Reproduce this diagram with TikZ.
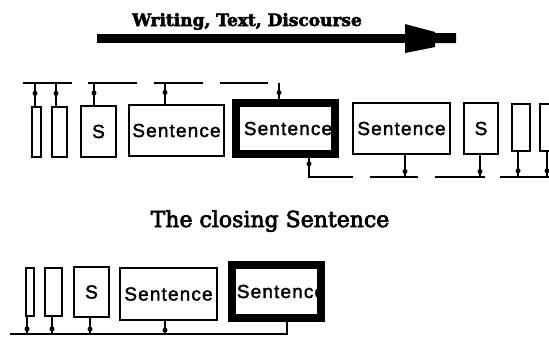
\documentclass[tikz,border=0pt]{standalone}
\usepackage{fontspec}
\usetikzlibrary{calc, positioning}
\newfontfamily\boxfont[LetterSpace=6, FakeBold=2]{Liberation Sans}
\newfontfamily\headfont[FakeBold=3]{DejaVu Serif}
\tikzset{
  % sentence box
  sbox/.style={
    draw
    , line width=2pt
    , inner sep=0pt
    , anchor=center
    , text centered
    , font=\boxfont\fontsize{19}{19}\selectfont
  },
}
\tikzset{
  % the closing sentence (heavy frame)
  cbox/.style={
    sbox
    , line width=8pt
  },
}
\tikzset{
  % connector and level line
  tap/.style={
    line width=2pt
  },
}
\tikzset{
  % knot on a connector
  blob/.style={
    circle
    , fill
    , inner sep=0pt
    , minimum size=5pt
  },
}

\begin{document}
\begin{tikzpicture}[x=1pt, y=-1pt]
  \useasboundingbox (0,0) rectangle (549,338);
  \clip (0,0) rectangle (549,338);

  % direction of the text
  \node[font=\headfont\bfseries\fontsize{17}{17}\selectfont, anchor=base]
    (flow label) at (247,26) {Writing, Text, Discourse};
  \coordinate (flow tail) at (97,38);
  \coordinate (flow head) at (405,38);
  \draw[line width=9pt] (flow tail) -- (flow head);
  \fill[shift={(flow head)}]
    (0,-14) -- (30,-6) -- (30,-5) -- (51,-5) -- (51,5)
    -- (30,5) -- (30,9) -- (0,15) -- cycle;

  % sentence chain in the middle of the text
  \node[sbox, minimum width=9pt, minimum height=50pt] (w1) at (36.5,132) {};
  \node[sbox, minimum width=15pt, minimum height=50pt] (w2) at (59.5,132) {};
  \node[sbox, minimum width=35pt, minimum height=51pt] (s1) at (98.5,131.5) {S};
  \node[sbox, minimum width=95pt, minimum height=51pt] (sent1) at (176.5,130.5) {Sentence};
  \node[cbox, minimum width=99pt, minimum height=51pt] (c1) at (285.5,128.5) {};
  \node[font=\boxfont\fontsize{19}{19}\selectfont] (c1 text) at (288,128.5) {Sentence};
  \node[sbox, minimum width=97pt, minimum height=51pt] (sent2) at (401.5,128.5) {Sentence};
  \node[sbox, minimum width=34pt, minimum height=51pt] (s2) at (481,128.5) {S};
  \node[sbox, minimum width=18pt, minimum height=47pt] (w3) at (521,127.5) {};
  \node[sbox, minimum width=19pt, minimum height=47pt] (w4) at (549.5,127.5) {};

  % level lines above and below
  \foreach \a/\b in {23/72, 88/137, 154/203, 220/268}
    \draw[tap] (\a,83) -- (\b,83);
  \foreach \a/\b in {370/418, 435/485, 500/549}
    \draw[tap] (\a,177) -- (\b,177);

  % taps going up
  \coordinate (w1 up) at (35,83);
  \coordinate (w2 up) at (56,83);
  \coordinate (s1 up) at (94,83);
  \coordinate (sent1 up) at (165,83);
  \coordinate (c1 in) at (279,83);
  \foreach \n in {w1, w2, s1, sent1}
    \draw[tap] (\n\space up |- \n.north) -- node[blob, pos=.55] {} (\n\space up);
  \draw[tap] (c1 in) -- node[blob, pos=.6] {} (c1 in |- c1.north);

  % taps going down
  \coordinate (c1 out) at (309,177);
  \coordinate (c1 end) at (353,177);
  \draw[tap] (c1 out |- c1.south) -- node[blob, pos=.3] {} (c1 out) -- (c1 end);
  \coordinate (sent2 down) at (405,177);
  \coordinate (s2 down) at (480,177);
  \coordinate (w3 down) at (518,177);
  \coordinate (w4 down) at (547,177);
  \foreach \n in {sent2, s2, w3, w4}
    \draw[tap] (\n\space down |- \n.south) -- node[blob, pos=.75] {} (\n\space down);

  \node[font=\headfont\fontsize{22}{22}\selectfont, anchor=base]
    (closing label) at (270,227) {The closing Sentence};

  % the closing sentence at the end of the text
  \node[sbox, minimum width=8pt, minimum height=48pt] (b1) at (30,292) {};
  \node[sbox, minimum width=17pt, minimum height=48pt] (b2) at (53.5,292) {};
  \node[sbox, minimum width=35pt, minimum height=50pt] (bs) at (91.5,292) {S};
  \node[sbox, minimum width=97pt, minimum height=52pt] (bsent) at (168.5,294) {Sentence};
  \node[cbox, minimum width=89pt, minimum height=53pt] (c2) at (276.5,291.5) {};
  \node[font=\boxfont\fontsize{19}{19}\selectfont] (c2 text) at (281,291.5) {Sentence};

  \coordinate (base start) at (10,334);
  \coordinate (base end) at (287,334);
  \draw[tap] (c2.south -| base end) -- (base end) -- (base start);
  \coordinate (b1 down) at (27,334);
  \coordinate (b2 down) at (52,334);
  \coordinate (bs down) at (90,334);
  \coordinate (bsent down) at (165,334);
  \foreach \n in {b1, b2, bs, bsent}
    \draw[tap] (\n\space down |- \n.south) -- node[blob, pos=.7] {} (\n\space down);
\end{tikzpicture}
\end{document}
